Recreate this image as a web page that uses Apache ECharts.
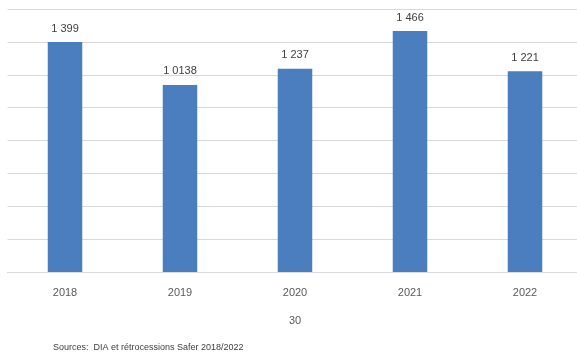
<!DOCTYPE html>
<html>
<head>
<meta charset="utf-8">
<script src="https://cdn.jsdelivr.net/npm/echarts@6/dist/echarts.min.js"></script>
<style>html,body{margin:0;padding:0;background:#fff;}#c{width:577px;height:356px;}</style>
</head>
<body>
<div id="c"></div>
<script>
var categories = ['2018', '2019', '2020', '2021', '2022'];
var values = [1399, 1138, 1237, 1466, 1221];
var valueLabels = ['1 399', '1 0138', '1 237', '1 466', '1 221'];
var axisName = '30';
var sourceText = 'Sources:  DIA et rétrocessions Safer 2018/2022';

var chart = echarts.init(document.getElementById('c'));
chart.setOption({
  animation: false,
  grid: { left: 7.5, width: 575, top: 9, bottom: 84, containLabel: false, outerBoundsMode: 'none' },
  xAxis: {
    type: 'category',
    data: categories,
    axisLine: { lineStyle: { color: '#d9d9d9' } },
    axisTick: { show: false },
    axisLabel: { color: '#595959', fontSize: 11, margin: 15, fontFamily: 'Liberation Sans' },
    name: axisName,
    nameLocation: 'middle',
    nameGap: 43,
    nameTextStyle: { color: '#595959', fontSize: 11, fontFamily: 'Liberation Sans' }
  },
  yAxis: {
    type: 'value',
    min: 0, max: 1600, interval: 200,
    axisLabel: { show: false },
    axisLine: { show: false },
    axisTick: { show: false },
    splitLine: { lineStyle: { color: '#d9d9d9' } }
  },
  series: [{
    type: 'bar',
    data: values,
    barWidth: '30%',
    itemStyle: { color: '#4a7ebf' },
    label: {
      show: true, position: 'top', distance: 8,
      color: '#404040', fontSize: 11, fontFamily: 'Liberation Sans',
      formatter: function (p) { return valueLabels[p.dataIndex]; }
    }
  }],
  graphic: [{
    type: 'text', left: 53, top: 343,
    style: { text: sourceText, fill: '#404040', fontSize: 9, fontFamily: 'Liberation Sans' }
  }]
});
</script>
</body>
</html>
